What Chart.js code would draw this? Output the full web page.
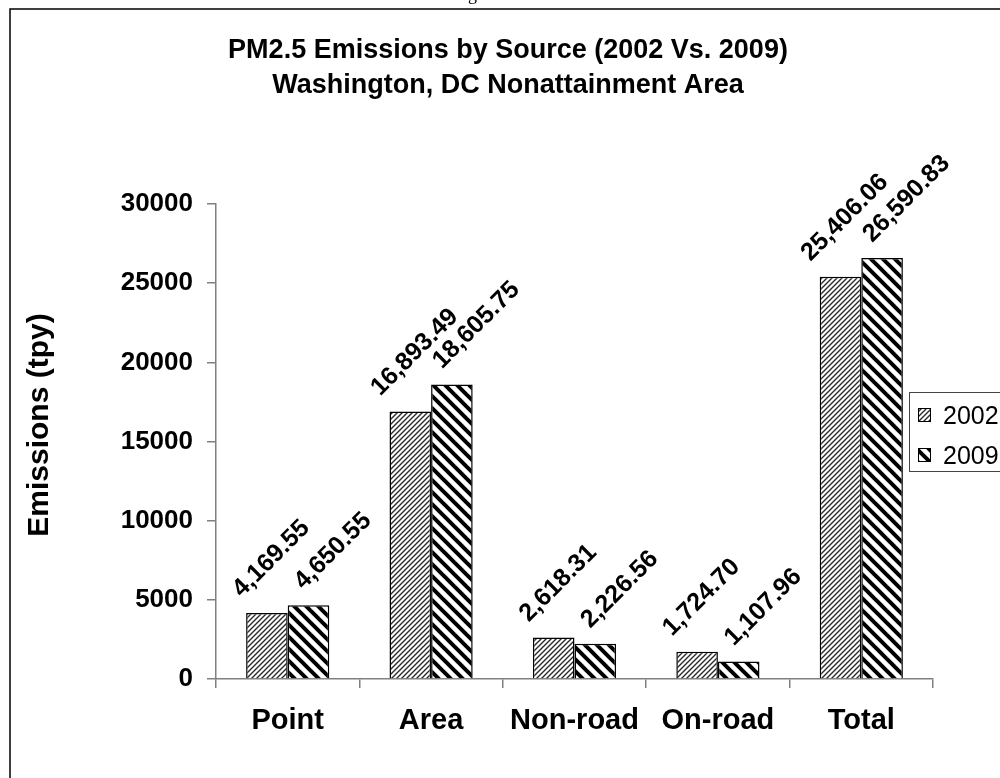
<!DOCTYPE html>
<html>
<head>
<meta charset="utf-8">
<script src="https://cdn.jsdelivr.net/npm/chart.js@4"></script>
<style>
  html, body { margin: 0; padding: 0; background: #ffffff; }
  #wrap { width: 1000px; height: 778px; position: relative; overflow: hidden; }
  canvas { display: block; }
</style>
</head>
<body>
<div id="wrap"><canvas id="c" width="1000" height="778"></canvas></div>
<script>
// ---- data ----
const categories = ["Point", "Area", "Non-road", "On-road", "Total"];
const seriesNames = ["2002", "2009"];
const values2002 = [4169.55, 16893.49, 2618.31, 1724.70, 25406.06];
const values2009 = [4650.55, 18605.75, 2226.56, 1107.96, 26590.83];
const yTicks = [0, 5000, 10000, 15000, 20000, 25000, 30000];
const titleLines = ["PM2.5 Emissions by Source (2002 Vs. 2009)", "Washington, DC Nonattainment Area"];
const yTitle = "Emissions (tpy)";

// ---- styles ----
const FONT = '"Liberation Sans", Arial, Helvetica, sans-serif';

function makeHatch(period, lineWidth, dir, color) {
  const c = document.createElement('canvas');
  c.width = period; c.height = period;
  const g = c.getContext('2d');
  g.fillStyle = '#ffffff';
  g.fillRect(0, 0, period, period);
  g.strokeStyle = color;
  g.lineWidth = lineWidth;
  g.lineCap = 'square';
  for (let k = -1; k <= 1; k++) {
    g.beginPath();
    if (dir === '/') { g.moveTo(k * period, period); g.lineTo(k * period + period, 0); }
    else { g.moveTo(k * period, 0); g.lineTo(k * period + period, period); }
    g.stroke();
  }
  return g.createPattern(c, 'repeat');
}
const hatch2002 = makeHatch(5, 1.4, '/', '#2a2a2a');
const hatch2009 = makeHatch(12, 4, '\\', '#000000');

function fmt(v) {
  return v.toLocaleString('en-US', { minimumFractionDigits: 2, maximumFractionDigits: 2 });
}

const decorPlugin = {
  id: 'decor',
  beforeDraw(chart) {
    const ctx = chart.ctx;
    ctx.save();
    ctx.fillStyle = '#ffffff';
    ctx.fillRect(0, 0, chart.width, chart.height);
    // partial caption glyph from the page above
    ctx.fillStyle = '#000';
    ctx.font = '18px "Liberation Serif", "Times New Roman", serif';
    ctx.textBaseline = 'alphabetic';
    ctx.fillText('g', 468, 0);
    // page frame
    ctx.strokeStyle = '#000';
    ctx.lineWidth = 1.5;
    ctx.strokeRect(10, 9, 1200, 1000);
    // titles
    ctx.font = 'bold 27px ' + FONT;
    ctx.textAlign = 'center';
    ctx.fillText(titleLines[0], 508, 58);
    ctx.fillText(titleLines[1], 508, 93);
    // y axis title
    ctx.save();
    ctx.translate(48, 425);
    ctx.rotate(-Math.PI / 2);
    ctx.font = 'bold 30px ' + FONT;
    ctx.textAlign = 'center';
    ctx.fillText(yTitle, 0, 0);
    ctx.restore();
    ctx.restore();
  },
  afterDatasetsDraw(chart) {
    const ctx = chart.ctx;
    chart.data.datasets.forEach((ds, i) => {
      const meta = chart.getDatasetMeta(i);
      meta.data.forEach((bar, j) => {
        const txt = fmt(ds.data[j]);
        ctx.save();
        ctx.font = 'bold 25px ' + FONT;
        ctx.fillStyle = '#000';
        const W = ctx.measureText(txt).width;
        const capH = 18;
        const half = (W + capH) * Math.SQRT1_2 / 2;
        const cx = bar.x + ds.labelDx;
        const cy = bar.y - 15 - half;
        ctx.translate(cx, cy);
        ctx.rotate(-Math.PI / 4);
        ctx.textAlign = 'left';
        ctx.textBaseline = 'alphabetic';
        ctx.fillText(txt, -W / 2, capH / 2);
        ctx.restore();
      });
    });
  },
  afterDraw(chart) {
    const ctx = chart.ctx;
    ctx.save();
    // legend
    ctx.fillStyle = '#ffffff';
    ctx.fillRect(909, 392, 120, 79);
    ctx.strokeStyle = '#444';
    ctx.lineWidth = 1;
    ctx.strokeRect(909.5, 392.5, 120, 79);
    chart.data.datasets.forEach((ds, i) => {
      const cy = 415 + i * 40;
      ctx.fillStyle = ds.backgroundColor;
      ctx.fillRect(918, cy - 7, 13, 14);
      ctx.strokeStyle = '#000';
      ctx.lineWidth = 1;
      ctx.strokeRect(918.5, cy - 6.5, 12, 13);
      ctx.fillStyle = '#000';
      ctx.font = '25px ' + FONT;
      ctx.textAlign = 'left';
      ctx.textBaseline = 'alphabetic';
      ctx.fillText(ds.label, 943, cy + 9);
    });
    ctx.restore();
  }
};

new Chart(document.getElementById('c'), {
  type: 'bar',
  data: {
    labels: categories,
    datasets: [
      { label: seriesNames[0], data: values2002, backgroundColor: hatch2002, borderColor: '#000', borderWidth: 1.5, labelDx: 3 },
      { label: seriesNames[1], data: values2009, backgroundColor: hatch2009, borderColor: '#000', borderWidth: 1.5, labelDx: 23 }
    ]
  },
  options: {
    responsive: false,
    animation: false,
    devicePixelRatio: 1,
    layout: { padding: { left: 0, top: 204, right: 67, bottom: 0 } },
    datasets: { bar: { barPercentage: 1.0, categoryPercentage: 0.58 } },
    plugins: { legend: { display: false }, title: { display: false }, tooltip: { enabled: false } },
    scales: {
      x: {
        afterFit(scale) { scale.height = 99; },
        grid: { drawOnChartArea: false, drawTicks: true, tickLength: 9, color: '#808080', lineWidth: 1.5, offset: true },
        border: { color: '#808080', width: 1.5 },
        ticks: { color: '#000', padding: 16, font: { family: FONT, size: 29, weight: 'bold' }, maxRotation: 0 }
      },
      y: {
        min: 0, max: 30000,
        afterFit(scale) { scale.width = 216; },
        afterBuildTicks(scale) { scale.ticks = yTicks.map(v => ({ value: v })); },
        grid: { drawOnChartArea: false, drawTicks: true, tickLength: 9, color: '#808080', lineWidth: 1.5 },
        border: { color: '#808080', width: 1.5 },
        ticks: { color: '#000', padding: 14, font: { family: FONT, size: 26, weight: 'bold' }, callback: (v) => String(v) }
      }
    }
  },
  plugins: [decorPlugin]
});
</script>
</body>
</html>
